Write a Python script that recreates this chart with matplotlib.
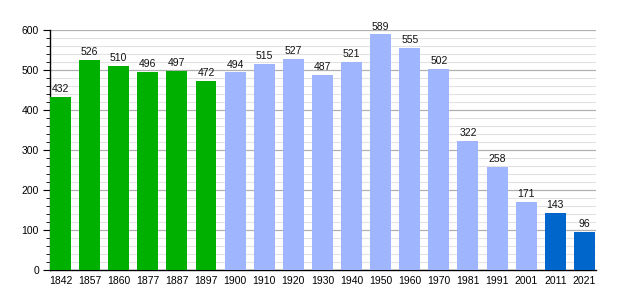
import matplotlib
matplotlib.use("Agg")
import matplotlib.pyplot as plt
from matplotlib.ticker import MultipleLocator

years = ["1842", "1857", "1860", "1877", "1887", "1897", "1900", "1910", "1920", "1930",
         "1940", "1950", "1960", "1970", "1981", "1991", "2001", "2011", "2021"]
population = [432, 526, 510, 496, 497, 472, 494, 515, 527, 487,
              521, 589, 555, 502, 322, 258, 171, 143, 96]
groups = ["old"] * 6 + ["mid"] * 11 + ["new"] * 2
palette = {"old": "#00b000", "mid": "#9fb6ff", "new": "#0066cc"}

plt.rcParams['font.family'] = ['Liberation Sans', 'DejaVu Sans']
fig = plt.figure(figsize=(6.25, 3.0), dpi=100)
ax = fig.add_axes([0.08, 0.1, 0.8736, 0.8])

bar_w = 0.72
x = list(range(len(years)))
colors = [palette[g] for g in groups]
ax.bar(x, population, width=bar_w, color=colors, zorder=3)
for xi, v in zip(x, population):
    ax.text(xi, v + 7, str(v), ha="center", va="bottom", fontsize=7.5, color="#111111", zorder=4)

ax.set_xlim(-bar_w / 2, len(years) - 1 + bar_w / 2 + 0.04)
ax.set_ylim(0, 600)
ax.set_xticks(x)
ax.set_xticklabels(years)
ax.yaxis.set_major_locator(MultipleLocator(100))
ax.yaxis.set_minor_locator(MultipleLocator(20))
ax.grid(axis="y", which="major", color="#b0b0b0", linewidth=0.9, zorder=0)
ax.grid(axis="y", which="minor", color="#e2e2e2", linewidth=0.8, zorder=0)
ax.tick_params(axis="x", length=0, labelsize=7.5, pad=4)
ax.tick_params(axis="y", which="major", length=5, labelsize=7.5, pad=3)
ax.tick_params(axis="y", which="minor", length=3)
for s in ["top", "right"]:
    ax.spines[s].set_visible(False)
ax.spines["left"].set_linewidth(1.0)
ax.spines["bottom"].set_linewidth(1.0)

fig.savefig("out.png", dpi=100)
